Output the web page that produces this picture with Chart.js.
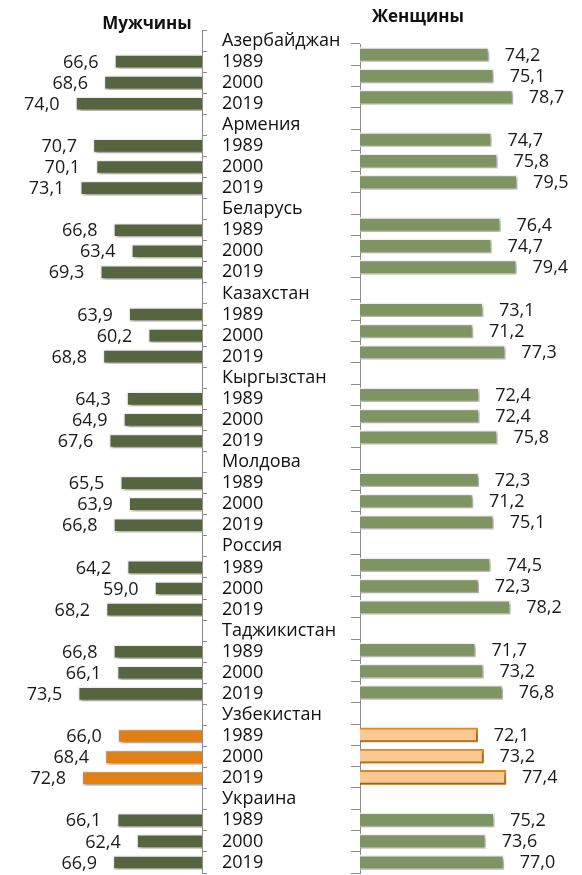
<!DOCTYPE html>
<html>
<head>
<meta charset="utf-8">
<script src="https://cdn.jsdelivr.net/npm/chart.js@4.4.1/dist/chart.umd.min.js"></script>
<style>
  body { margin: 0; background: #fff; }
  #wrap { position: relative; width: 582px; height: 875px; overflow: hidden; font-family: 'Open Sans', sans-serif; }
  #menChart { position: absolute; left: 0; top: 0; }
  #womenChart { position: absolute; left: 300px; top: 0; }
  .title { position: absolute; font-weight: bold; font-size: 17px; color: #111; transform: translate(-50%, -50%); white-space: nowrap; }
</style>
</head>
<body>
<div id="wrap">
  <canvas id="menChart" width="380" height="875"></canvas>
  <canvas id="womenChart" width="282" height="875"></canvas>
  <div class="title" style="left:147px; top:22px;">Мужчины</div>
  <div class="title" style="left:418px; top:15px;">Женщины</div>
</div>
<script>
const countries = ['Азербайджан', 'Армения', 'Беларусь', 'Казахстан', 'Кыргызстан', 'Молдова', 'Россия', 'Таджикистан', 'Узбекистан', 'Украина'];
const years = ['1989', '2000', '2019'];
const menValues = [66.6, 68.6, 74.0, 70.7, 70.1, 73.1, 66.8, 63.4, 69.3, 63.9, 60.2, 68.8, 64.3, 64.9, 67.6,
  65.5, 63.9, 66.8, 64.2, 59.0, 68.2, 66.8, 66.1, 73.5, 66.0, 68.4, 72.8, 66.1, 62.4, 66.9];
const womenValues = [74.2, 75.1, 78.7, 74.7, 75.8, 79.5, 76.4, 74.7, 79.4, 73.1, 71.2, 77.3, 72.4, 72.4, 75.8,
  72.3, 71.2, 75.1, 74.5, 72.3, 78.2, 71.7, 73.2, 76.8, 72.1, 73.2, 77.4, 75.2, 73.6, 77.0];
const highlight = 'Узбекистан';

// one row per country name, then one row per year
const labels = [], men = [], women = [], isHi = [];
countries.forEach((c, i) => {
  labels.push(c); men.push(null); women.push(null); isHi.push(false);
  years.forEach((y, j) => {
    labels.push(y);
    men.push(menValues[i * 3 + j]);
    women.push(womenValues[i * 3 + j]);
    isHi.push(c === highlight);
  });
});

const FONT = "'Open Sans', sans-serif";
const AXIS = '#8c8c8c';

const barShadow = {
  id: 'barShadow',
  beforeDatasetsDraw(chart) {
    const c = chart.ctx;
    c.save();
    c.shadowColor = 'rgba(0,0,0,0.35)';
    c.shadowBlur = 3;
    c.shadowOffsetX = 2;
    c.shadowOffsetY = 2;
  },
  afterDatasetsDraw(chart) {
    chart.ctx.restore();
  }
};

const valueLabels = {
  id: 'valueLabels',
  afterDatasetsDraw(chart, args, opts) {
    const ctx = chart.ctx;
    const data = chart.data.datasets[0].data;
    ctx.save();
    ctx.shadowColor = 'transparent';
    ctx.font = '18px ' + FONT;
    ctx.fillStyle = '#1a1a1a';
    ctx.textBaseline = 'middle';
    ctx.textAlign = opts.side === 'left' ? 'right' : 'left';
    chart.getDatasetMeta(0).data.forEach((bar, i) => {
      if (data[i] == null) return;
      const x = opts.side === 'left' ? bar.x - 16 : bar.x + 16;
      ctx.fillText(data[i].toFixed(1).replace('.', ','), x, bar.y + 1);
    });
    ctx.restore();
  }
};

new Chart(document.getElementById('menChart'), {
  type: 'bar',
  data: {
    labels: labels,
    datasets: [{
      data: men,
      backgroundColor: isHi.map(h => h ? '#e07f13' : '#56653f'),
      borderColor: '#f2f2f2',
      borderWidth: 1.5,
      barThickness: 14
    }]
  },
  options: {
    indexAxis: 'y',
    responsive: false,
    animation: false,
    layout: { padding: { left: 44, top: 30, bottom: 2, right: 0 } },
    plugins: { legend: { display: false }, tooltip: { enabled: false }, valueLabels: { side: 'left' } },
    scales: {
      x: { min: 50, max: 80, reverse: true, display: false },
      y: {
        position: 'right',
        grid: { drawOnChartArea: false, color: AXIS, tickLength: 5, offset: true },
        border: { color: AXIS, width: 1 },
        ticks: { color: '#111', font: { family: FONT, size: 18 }, padding: 15, crossAlign: 'near', autoSkip: false },
        afterFit(s) { s.width = 178; s.paddingTop = 0; s.paddingBottom = 0; }
      }
    }
  },
  plugins: [barShadow, valueLabels]
});

new Chart(document.getElementById('womenChart'), {
  type: 'bar',
  data: {
    labels: labels.slice(1),
    datasets: [{
      data: women.slice(1),
      backgroundColor: isHi.slice(1).map(h => h ? '#f9c994' : '#7e9462'),
      borderColor: isHi.slice(1).map(h => h ? '#e3861c' : '#f2f2f2'),
      borderWidth: isHi.slice(1).map(h => h ? 2 : 1.5),
      barThickness: 14
    }]
  },
  options: {
    indexAxis: 'y',
    responsive: false,
    animation: false,
    layout: { padding: { left: 0, top: 44, bottom: 2, right: 9 } },
    plugins: { legend: { display: false }, tooltip: { enabled: false }, valueLabels: { side: 'right' } },
    scales: {
      x: { min: 50, max: 90, display: false },
      y: {
        grid: { drawOnChartArea: false, color: AXIS, tickLength: 9, offset: true },
        border: { color: AXIS, width: 1 },
        ticks: { display: false },
        afterFit(s) { s.width = 60; }
      }
    }
  },
  plugins: [barShadow, valueLabels]
});
</script>
</body>
</html>
